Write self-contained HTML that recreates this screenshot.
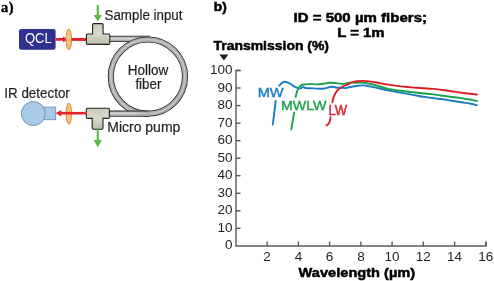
<!DOCTYPE html>
<html><head><meta charset="utf-8"><style>
html,body{margin:0;padding:0;background:#fff;}
svg{display:block;will-change:transform;}
text{font-family:"Liberation Sans",sans-serif;}
.b{stroke:#000;stroke-width:0.5px;fill:#000;}
.lab{stroke-width:0.4px;}
.r{stroke:#231f20;stroke-width:0.2px;}
</style></head><body>
<svg width="494" height="281" viewBox="0 0 494 281">
<defs>
<linearGradient id="tubeH" x1="0" y1="0" x2="0" y2="1">
<stop offset="0" stop-color="#8a8a8a"/><stop offset="0.45" stop-color="#e6e6e6"/><stop offset="1" stop-color="#8a8a8a"/>
</linearGradient>
<linearGradient id="tee" x1="0" y1="0" x2="0" y2="1">
<stop offset="0" stop-color="#c9cbb8"/><stop offset="0.5" stop-color="#d8dac8"/><stop offset="1" stop-color="#b9bca6"/>
</linearGradient>
<linearGradient id="hl" gradientUnits="userSpaceOnUse" x1="109" y1="0" x2="150" y2="0">
<stop offset="0" stop-color="#d8d8d8"/><stop offset="0.6" stop-color="#d8d8d8"/><stop offset="1" stop-color="#a9a9a9"/>
</linearGradient>
</defs>
<rect width="494" height="281" fill="#fff"/>
<!-- panel a -->
<text x="1" y="11.6" font-family="Liberation Serif" font-weight="bold" font-size="14.5" letter-spacing="0.6" stroke="#000" stroke-width="0.4" style="font-family:'Liberation Serif',serif">a)</text>
<rect x="19" y="29" width="36.6" height="20.7" rx="2.2" fill="#2e3192"/>
<text x="24.9" y="43.4" font-size="14.6" fill="#fff" textLength="26.8" lengthAdjust="spacingAndGlyphs">QCL</text>
<!-- red beam top -->
<path d="M55.5 39.4 H64 M70 39.4 H87" stroke="#e5232b" stroke-width="2.6"/>
<path d="M68.3 39.4 L63 36.5 L63 42.3 Z" fill="#e5232b"/>
<ellipse cx="68.8" cy="39.45" rx="2.8" ry="10.4" fill="#f6c47f" stroke="#d98a3a" stroke-width="1"/>
<path d="M71.5 39.4 H87" stroke="#e5232b" stroke-width="2.6"/>
<!-- fiber loop -->
<g fill="none">
<path d="M109 38.9 H150" stroke="#262626" stroke-width="6.2"/>
<path d="M109 38.9 H150" stroke="#a9a9a9" stroke-width="4.6"/>
<path d="M109 38.6 H150" stroke="url(#hl)" stroke-width="1.6"/>
<circle cx="147.9" cy="76.6" r="37.1" stroke="#262626" stroke-width="6.1"/>
<circle cx="147.9" cy="76.6" r="37.1" stroke="#a9a9a9" stroke-width="4.5"/>
<circle cx="147.9" cy="76.6" r="37.1" stroke="#c4c4c4" stroke-width="1.6"/>
<path d="M109 113.7 H149" stroke="#262626" stroke-width="6.2"/>
<path d="M109 113.7 H149.5" stroke="#a9a9a9" stroke-width="4.6"/>
<path d="M109 113.4 H150" stroke="url(#hl)" stroke-width="1.6"/>
</g>
<!-- tee top -->
<path d="M92.6 34.0 V24.8 Q92.6 23.6 93.8 23.6 H101.89999999999999 Q103.1 23.6 103.1 24.8 V34.0 H108.6 Q109.8 34.0 109.8 35.2 V43.199999999999996 Q109.8 44.4 108.6 44.4 H87.60000000000001 Q86.4 44.4 86.4 43.199999999999996 V35.2 Q86.4 34.0 87.60000000000001 34.0 Z" fill="url(#tee)" stroke="#222" stroke-width="1.1"/>
<!-- tee bottom -->
<path d="M86.3 109.4 Q86.3 108.2 87.5 108.2 H108.2 Q109.4 108.2 109.4 109.4 V117.2 Q109.4 118.4 108.2 118.4 H103.0 V128.10000000000002 Q103.0 129.3 101.8 129.3 H93.4 Q92.2 129.3 92.2 128.10000000000002 V118.4 H87.5 Q86.3 118.4 86.3 117.2 Z" fill="url(#tee)" stroke="#222" stroke-width="1.1"/>
<!-- green arrows -->
<path d="M97.8 5 V16" stroke="#5db847" stroke-width="2.2"/>
<path d="M93.6 15 H102 L97.8 21.6 Z" fill="#5db847"/>
<path d="M97.8 129.5 V141" stroke="#5db847" stroke-width="2.2"/>
<path d="M93.6 140 H102 L97.8 147.2 Z" fill="#5db847"/>
<text class="r" x="104.5" y="19.6" font-size="14" fill="#231f20" textLength="78" lengthAdjust="spacingAndGlyphs">Sample input</text>
<text class="r" x="127.8" y="74.6" font-size="14" fill="#231f20" textLength="40.5" lengthAdjust="spacingAndGlyphs">Hollow</text>
<text class="r" x="135.4" y="89.1" font-size="14" fill="#231f20" textLength="26" lengthAdjust="spacingAndGlyphs">fiber</text>
<text class="r" x="107.3" y="131.8" font-size="14" fill="#231f20" textLength="73" lengthAdjust="spacingAndGlyphs">Micro pump</text>
<text class="r" x="4.3" y="98.2" font-size="14" fill="#231f20" textLength="65.5" lengthAdjust="spacingAndGlyphs">IR detector</text>
<!-- detector -->
<rect x="43.5" y="107.1" width="12.2" height="12.6" fill="#a9c9e7" stroke="#6b8fb5" stroke-width="0.9"/>
<circle cx="33.3" cy="113.6" r="12" fill="#a9c9e7" stroke="#6b8fb5" stroke-width="0.9"/>
<ellipse cx="68.85" cy="113.55" rx="2.7" ry="10.5" fill="#f6c47f" stroke="#d98a3a" stroke-width="1"/>
<path d="M59.5 113.2 H87" stroke="#e5232b" stroke-width="2.6"/>
<path d="M55.6 113.2 L61.3 109.9 L61.3 116.5 Z" fill="#e5232b"/>

<!-- panel b -->
<text class="b" x="213.8" y="11" font-weight="bold" font-size="13" fill="#231f20" textLength="13" lengthAdjust="spacingAndGlyphs">b)</text>
<text class="b" x="293.5" y="22" font-weight="bold" font-size="13.6" fill="#231f20" textLength="133.5" lengthAdjust="spacingAndGlyphs">ID = 500 µm fibers;</text>
<text class="b" x="337.2" y="37.3" font-weight="bold" font-size="13.6" fill="#231f20" textLength="47.4" lengthAdjust="spacingAndGlyphs">L = 1m</text>
<text class="b" x="213.5" y="49.7" font-weight="bold" font-size="13.2" fill="#231f20" textLength="115.5" lengthAdjust="spacingAndGlyphs">Transmission (%)</text>
<path d="M219.4 54.6 H228.4 L223.9 60.6 Z" fill="#231f20"/>
<g stroke="#5a5a5a" stroke-width="1.4" fill="none">
<path d="M240.5 70.5 H236 V246 H486 V241.5"/>
<path d="M236 228.4 H240.5"/><path d="M236 210.8 H240.5"/><path d="M236 193.3 H240.5"/><path d="M236 175.7 H240.5"/><path d="M236 158.2 H240.5"/><path d="M236 140.7 H240.5"/><path d="M236 123.1 H240.5"/><path d="M236 105.6 H240.5"/><path d="M236 88.0 H240.5"/><path d="M236 70.5 H240.5"/>
<path d="M267.1 246 V241.5"/><path d="M298.4 246 V241.5"/><path d="M329.6 246 V241.5"/><path d="M360.9 246 V241.5"/><path d="M392.1 246 V241.5"/><path d="M423.3 246 V241.5"/><path d="M454.6 246 V241.5"/><path d="M485.8 246 V241.5"/>
</g>
<g font-size="13.5" fill="#231f20" text-anchor="end">
<text x="232.5" y="249.4">0</text><text x="232.5" y="231.9">10</text><text x="232.5" y="214.3">20</text><text x="232.5" y="196.8">30</text><text x="232.5" y="179.2">40</text><text x="232.5" y="161.7">50</text><text x="232.5" y="144.2">60</text><text x="232.5" y="126.6">70</text><text x="232.5" y="109.1">80</text><text x="232.5" y="91.5">90</text><text x="232.5" y="74.0">100</text>
</g>
<g font-size="13.5" fill="#231f20" text-anchor="middle">
<text x="267.1" y="261">2</text><text x="298.4" y="261">4</text><text x="329.6" y="261">6</text><text x="360.9" y="261">8</text><text x="392.1" y="261">10</text><text x="423.3" y="261">12</text><text x="454.6" y="261">14</text><text x="485.8" y="261">16</text>
</g>
<text class="b" x="298.6" y="276.8" font-weight="bold" font-size="13.7" fill="#231f20" textLength="116.6" lengthAdjust="spacingAndGlyphs">Wavelength (µm)</text>

<g fill="none" stroke-width="1.9" stroke-linecap="round" stroke-linejoin="round">
<path d="M272.8 124.6 C273.1 122.6 273.8 116.4 274.3 112.5 C274.8 108.6 275.5 102.9 275.7 101.0" stroke="#1a7ac4"/>
<path d="M279.3 85.7 C279.8 85.2 281.0 83.7 282.0 83.0 C283.0 82.3 283.8 81.6 285.1 81.7 C286.4 81.8 288.7 82.9 289.8 83.4 C290.9 84.0 291.2 84.5 292.0 85.0 C292.8 85.5 293.6 86.2 294.6 86.7 C295.6 87.2 297.0 87.7 298.0 88.0 C299.0 88.3 299.6 88.6 300.5 88.4 C301.4 88.2 302.2 87.0 303.1 86.9 C304.0 86.8 304.0 87.8 305.7 88.0 C307.4 88.2 310.5 88.3 313.4 88.4 C316.3 88.5 320.1 89.0 323.1 88.7 C326.2 88.4 329.4 87.0 331.7 86.8 C334.0 86.6 335.1 87.5 336.8 87.7 C338.5 87.9 340.5 87.6 341.9 87.7 C343.3 87.8 343.6 88.2 345.0 88.1 C346.4 88.0 348.0 87.4 350.1 87.0 C352.2 86.6 355.5 86.0 357.8 85.7 C360.1 85.4 361.8 85.3 363.8 85.4 C365.8 85.5 367.9 86.1 369.8 86.4 C371.7 86.7 371.7 86.7 375.0 87.4 C378.3 88.1 384.5 89.6 389.5 90.6 C394.5 91.6 399.7 92.5 404.8 93.4 C409.9 94.3 415.2 95.4 420.0 96.2 C424.8 97.0 428.9 97.4 433.6 98.1 C438.3 98.8 443.4 99.4 448.0 100.1 C452.6 100.8 457.5 101.6 461.1 102.2 C464.7 102.8 467.0 103.0 469.6 103.5 C472.2 104.0 475.7 104.9 476.9 105.2" stroke="#1a7ac4"/>
<path d="M291.3 129.2 C291.6 127.7 292.3 123.3 292.8 120.5 C293.3 117.7 294.0 113.8 294.2 112.4" stroke="#1aa34a"/>
<path d="M295.6 96.9 C295.9 96.0 296.6 92.9 297.1 91.4 C297.6 89.9 298.2 88.9 298.8 88.0 C299.4 87.1 299.8 86.4 300.5 85.8 C301.2 85.2 302.0 84.8 303.1 84.5 C304.2 84.2 306.0 84.4 307.4 84.3 C308.8 84.2 310.3 83.9 311.7 83.9 C313.1 83.9 314.0 84.4 315.9 84.4 C317.8 84.4 320.9 84.1 323.1 83.8 C325.3 83.5 327.1 82.9 329.1 82.8 C331.1 82.7 333.1 82.8 335.1 83.0 C337.1 83.2 339.5 83.7 341.1 83.8 C342.8 83.9 343.5 83.8 345.0 83.6 C346.5 83.4 348.0 82.8 350.1 82.7 C352.2 82.6 355.5 82.7 357.8 82.7 C360.1 82.7 361.8 82.5 363.8 82.7 C365.8 82.9 367.9 83.4 369.8 83.8 C371.7 84.2 371.7 84.1 375.0 85.0 C378.3 85.9 384.5 88.0 389.5 89.1 C394.5 90.1 399.7 90.6 404.8 91.3 C409.9 92.0 415.2 92.5 420.0 93.0 C424.8 93.5 428.9 93.8 433.6 94.4 C438.3 95.0 443.4 95.9 448.0 96.5 C452.6 97.1 457.5 97.6 461.1 98.1 C464.7 98.6 467.0 99.0 469.6 99.5 C472.2 100.0 475.7 100.8 476.9 101.0" stroke="#1aa34a"/>
<path d="M326.6 125.4 C326.9 125.2 327.6 124.9 328.1 124.4 C328.6 123.9 329.0 123.2 329.4 122.4 C329.8 121.6 330.0 120.7 330.2 119.8 C330.4 118.9 330.5 117.6 330.6 117.2" stroke="#d9202a"/>
<path d="M332.4 102.2 C332.6 101.3 332.9 98.9 333.6 97.1 C334.3 95.2 335.7 92.6 336.8 91.1 C337.9 89.6 339.1 88.9 340.2 88.1 C341.3 87.2 342.2 86.6 343.6 86.0 C345.0 85.4 347.0 85.0 348.4 84.4 C349.8 83.8 350.4 82.8 351.8 82.3 C353.2 81.8 355.3 81.4 357.0 81.2 C358.7 81.0 360.4 80.9 362.1 80.9 C363.8 80.9 365.1 80.9 367.2 81.1 C369.3 81.3 371.3 81.7 375.0 82.3 C378.7 82.9 384.5 84.2 389.5 84.9 C394.5 85.7 400.3 86.3 404.8 86.8 C409.3 87.3 411.7 87.3 416.5 87.7 C421.3 88.1 428.4 88.4 433.6 88.9 C438.9 89.4 443.4 90.1 448.0 90.7 C452.6 91.3 457.5 92.2 461.1 92.7 C464.7 93.2 467.0 93.4 469.6 93.7 C472.2 94.0 475.7 94.4 476.9 94.5" stroke="#d9202a"/>
</g>
<text x="257.7" y="97.2" font-size="13" fill="#1a7ac4" stroke="#1a7ac4" class="lab" textLength="26" lengthAdjust="spacingAndGlyphs">MW</text>
<text x="281" y="109.7" font-size="13.2" fill="#1aa34a" stroke="#1aa34a" class="lab" textLength="45.5" lengthAdjust="spacingAndGlyphs">MWLW</text>
<text x="328.5" y="115.1" font-size="14" fill="#d9202a" stroke="#d9202a" class="lab" textLength="18.6" lengthAdjust="spacingAndGlyphs">LW</text>
</svg>
</body></html>
